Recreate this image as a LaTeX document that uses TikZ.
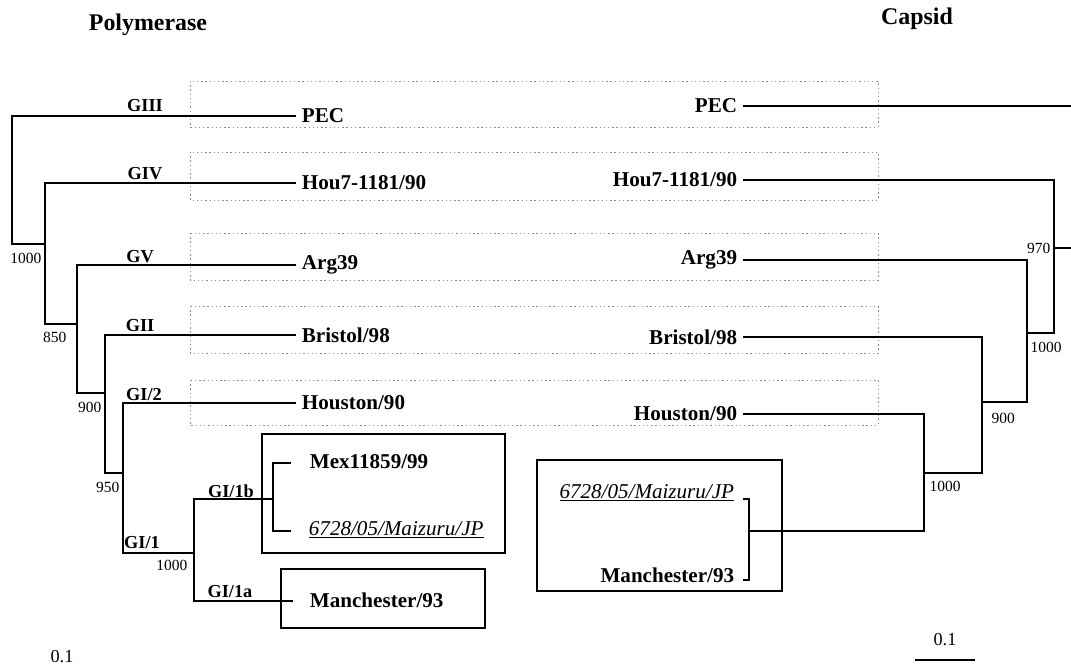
\documentclass[tikz,border=0pt]{standalone}
\usepackage{fontspec}
\setmainfont{Liberation Serif}
\usetikzlibrary{positioning}

\tikzset{
  leaf/.style={font=\fontsize{15}{18}\selectfont\bfseries, inner xsep=4pt, inner ysep=1pt},
  strain/.style={font=\fontsize{15}{18}\selectfont\itshape, inner xsep=4pt, inner ysep=1pt},
  geno/.style={font=\fontsize{13}{15}\selectfont\bfseries, inner sep=1pt},
  boot/.style={font=\fontsize{11}{13}\selectfont, inner sep=1pt},
  heading/.style={font=\fontsize{17}{20}\selectfont\bfseries},
  branch/.style={line width=1.1pt},
  clade/.style={draw, line width=1.8pt},
  dotbox/.style={draw=black!45, line width=0.5pt, dash pattern=on 1pt off 2pt},
}

\begin{document}
\begin{tikzpicture}[x=0.025cm, y=-0.025cm]
        \useasboundingbox (0,0) rectangle (1071,670);

        % 1. Headings
        \node[heading] (tpol) at (148,25) {Polymerase};
        \node[heading] (tcap) at (917,19) {Capsid};

        % 2. Dotted frames round the strains shared by both trees
        \foreach \ya/\yb in {81/127,152/200,233/280,306/353,380/425}
          \draw[dotbox] (190,\ya) rectangle (878,\yb);

        % 3. Polymerase tree: leaves
        \node[leaf, anchor=west] (lpec) at (296,116) {PEC};
        \node[leaf, anchor=west] (lhou7) at (296,183) {Hou7-1181/90};
        \node[leaf, anchor=west] (larg) at (296,265) {Arg39};
        \node[leaf, anchor=west] (lbri) at (296,335) {Bristol/98};
        \node[leaf, anchor=west] (lhous) at (296,403) {Houston/90};
        \node[leaf, anchor=west] (lmex) at (304,462) {Mex11859/99};
        \node[strain, anchor=west] (lmai) at (303,530) {\underline{6728/05/Maizuru/JP}};
        \node[leaf, anchor=west] (lman) at (304,600) {Manchester/93};

        % internal nodes
        \coordinate (n1) at (12,244);
        \coordinate (n2) at (45,324);
        \coordinate (n3) at (77,393);
        \coordinate (n4) at (105,473);
        \coordinate (n5) at (123,553);
        \coordinate (n6) at (194,601);
        \coordinate (g1b) at (194,499);
        \coordinate (n7) at (273,531);
        \coordinate (e1b) at (291,463);
        \coordinate (e1a) at (293,601);

        \draw[branch] (lpec.west) -| (n1) -- (n1 -| n2);
        \draw[branch] (lhou7.west) -| (n2) -- (n2 -| n3);
        \draw[branch] (larg.west) -| (n3) -- (n3 -| n4);
        \draw[branch] (lbri.west) -| (n4) -- (n4 -| n5);
        \draw[branch] (lhous.west) -| (n5) -- (n5 -| n6);
        \draw[branch] (n7 |- g1b) -- (g1b) -- (n6) -- (e1a);
        \draw[branch] (e1b) -| (n7) -- (n7 -| e1b);

        % genogroup labels
        \node[geno] (gIII) at (145,106) {GIII};
        \node[geno] (gIV) at (145,174) {GIV};
        \node[geno] (gV) at (140,257) {GV};
        \node[geno] (gII) at (140,326) {GII};
        \node[geno] (gI2) at (144,395) {GI/2};
        \node[geno] (gI1) at (142,543) {GI/1};
        \node[geno] (gI1b) at (231,491) {GI/1b};
        \node[geno] (gI1a) at (230,592) {GI/1a};

        % bootstrap values
        \node[boot, anchor=east] (b1) at (43,258) {1000};
        \node[boot, anchor=east] (b2) at (68,337) {850};
        \node[boot, anchor=east] (b3) at (103,407) {900};
        \node[boot, anchor=east] (b4) at (121,487) {950};
        \node[boot, anchor=east] (b5) at (189,565) {1000};

        % GI/1 boxes
        \draw[clade] (262,434) rectangle (505,553);
        \draw[clade] (281,569) rectangle (485,628);

        % 4. Capsid tree: leaves
        \node[leaf, anchor=east] (rpec) at (743,106) {PEC};
        \node[leaf, anchor=east] (rhou7) at (743,180) {Hou7-1181/90};
        \node[leaf, anchor=east] (rarg) at (743,260) {Arg39};
        \node[leaf, anchor=east] (rbri) at (743,337) {Bristol/98};
        \node[leaf, anchor=east] (rhous) at (743,414) {Houston/90};
        \node[strain, anchor=east] (rmai) at (740,493) {\underline{6728/05/Maizuru/JP}};
        \node[leaf, anchor=east] (rman) at (740,575) {Manchester/93};

        % internal nodes
        \coordinate (r1) at (1054,333);
        \coordinate (r2) at (1027,402);
        \coordinate (r3) at (982,473);
        \coordinate (r4) at (924,531);
        \coordinate (r5) at (749,531);
        \coordinate (rootR) at (1071,248);
        \coordinate (pecR) at (1071,106);
        \coordinate (t1) at (743,499);
        \coordinate (t2) at (743,580);

        \draw[branch] (rpec.east) -- (pecR);
        \draw[branch] (rhou7.east) -| (r1) -- (r1 -| r2);
        \draw[branch] (rootR) -- (rootR -| r1);
        \draw[branch] (rarg.east) -| (r2) -- (r2 -| r3);
        \draw[branch] (rbri.east) -| (r3) -- (r3 -| r4);
        \draw[branch] (rhous.east) -| (r4) -- (r5);
        \draw[branch] (t1) -| (r5) -- (r5 |- t2) -- (t2);

        % bootstrap values
        \node[boot, anchor=east] (b6) at (1052,248) {970};
        \node[boot, anchor=west] (b7) at (1029,347) {1000};
        \node[boot, anchor=west] (b8) at (990,418) {900};
        \node[boot, anchor=west] (b9) at (928,486) {1000};

        % GI box
        \draw[clade] (537,460) rectangle (782,591);

        % 5. Scale bars
        \node[boot, font=\fontsize{13}{15}\selectfont] (s1) at (62,657) {0.1};
        \node[boot, font=\fontsize{13}{15}\selectfont] (s2) at (945,640) {0.1};
        \coordinate (s2a) at (915,660);
        \coordinate (s2b) at (975,660);
        \draw[line width=0.8pt] (s2a) -- (s2b);

    \end{tikzpicture}
\end{document}
